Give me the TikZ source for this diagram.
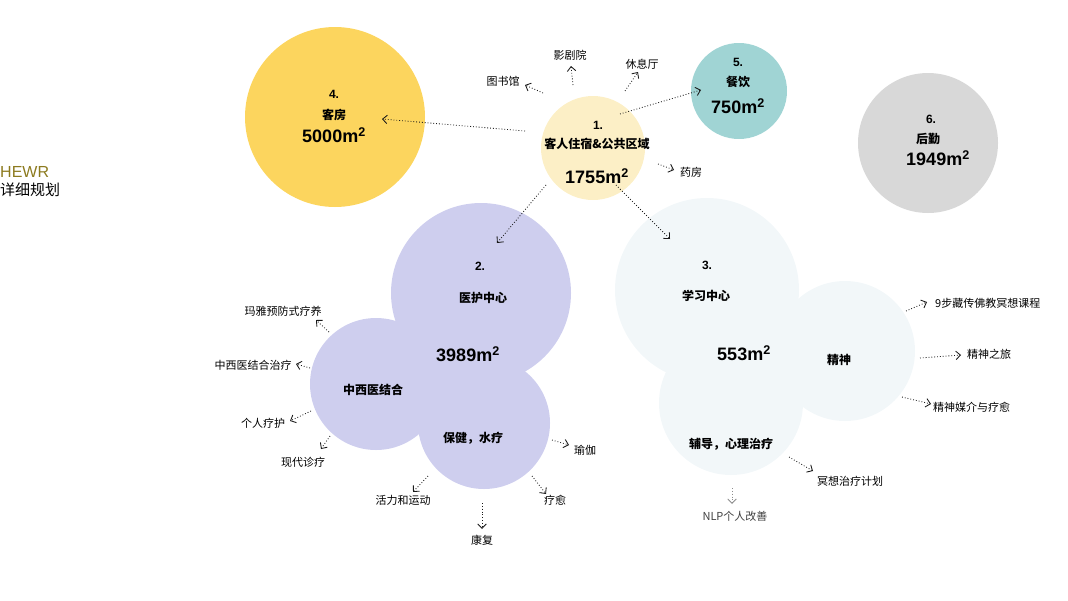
\documentclass[tikz,border=0pt]{standalone}
\usepackage{fontspec}
\setmainfont{Liberation Sans}
\newfontfamily\cjk{Noto Sans CJK SC}
\usetikzlibrary{arrows.meta}
\definecolor{cyel}{HTML}{FCD55E}
\definecolor{cpale}{HTML}{FCEFC6}
\definecolor{cteal}{HTML}{A0D4D4}
\definecolor{cgrey}{HTML}{D8D8D8}
\definecolor{cpurp}{HTML}{CECEEE}
\definecolor{ccyan}{HTML}{F2F7F9}
\definecolor{cgold}{RGB}{140,122,30}
\tikzset{
  blob/.style={circle, draw=none, inner sep=0pt, minimum size=#1},
  numtxt/.style={font=\bfseries\fontsize{12}{14}\selectfont, inner sep=0pt},
  nametxt/.style={font=\cjk\bfseries\fontsize{12}{14}\selectfont, inner sep=0pt},
  areatxt/.style={font=\bfseries\fontsize{18}{20}\selectfont, inner sep=0pt},
  lbl/.style={font=\cjk\fontsize{11}{13}\selectfont, text=black, inner sep=0pt},
  link/.style={draw=black!90, dotted, line width=0.85pt, -{Straight Barb[length=4.5pt,width=8.5pt]}},
}
\begin{document}
\begin{tikzpicture}[x=1pt,y=-1pt]
\useasboundingbox (0,0) rectangle (1068,600);
% circles
\node[blob=180, fill=cyel] (c4) at (335,117) {};
\node[blob=104, fill=cpale] (c1) at (593,148) {};
\node[blob=96, fill=cteal] (c5) at (739,91) {};
\node[blob=140, fill=cgrey] (c6) at (928,143) {};
\node[blob=180, fill=cpurp] (c2a) at (481,293) {};
\node[blob=132, fill=cpurp] (c2b) at (376,384) {};
\node[blob=132, fill=cpurp] (c2c) at (484,423) {};
\node[blob=184, fill=ccyan] (c3a) at (707,290) {};
\node[blob=140, fill=ccyan] (c3b) at (845,351) {};
\node[blob=144, fill=ccyan] (c3c) at (731,403) {};
% side title
\node[anchor=west, inner sep=0pt, text=cgold, font=\fontsize{16}{18}\selectfont] (hewr) at (0,172) {HEWR};
\node[anchor=west, inner sep=0pt, font=\cjk\fontsize{15}{17}\selectfont] (plan) at (0,190) {详细规划};
% circle texts
\node[numtxt] (n4) at (334,94) {4.};
\node[nametxt] (m4) at (334,115) {客房};
\node[areatxt] (a4) at (334,135) {5000m\textsuperscript{2}};
\node[numtxt] (n1) at (598,125) {1.};
\node[nametxt] (m1) at (597,144) {客人住宿\&公共区域};
\node[areatxt] (a1) at (597,176) {1755m\textsuperscript{2}};
\node[numtxt] (n5) at (738,62) {5.};
\node[nametxt] (m5) at (738,82) {餐饮};
\node[areatxt] (a5) at (738,106) {750m\textsuperscript{2}};
\node[numtxt] (n6) at (931,119) {6.};
\node[nametxt] (m6) at (928,139) {后勤};
\node[areatxt] (a6) at (938,158) {1949m\textsuperscript{2}};
\node[numtxt] (n2) at (480,266) {2.};
\node[nametxt] (m2) at (483,298) {医护中心};
\node[areatxt] (a2) at (468,354) {3989m\textsuperscript{2}};
\node[nametxt] (m2b) at (373,390) {中西医结合};
\node[nametxt] (m2c) at (473,438) {保健，水疗};
\node[numtxt] (n3) at (707,265) {3.};
\node[nametxt] (m3) at (706,296) {学习中心};
\node[areatxt] (a3) at (744,353) {553m\textsuperscript{2}};
\node[nametxt] (m3b) at (839,360) {精神};
\node[nametxt] (m3c) at (731,444) {辅导，心理治疗};
% labels
\node[lbl] (l1) at (503,81) {图书馆};
\node[lbl] (l2) at (570,55) {影剧院};
\node[lbl] (l3) at (642,64) {休息厅};
\node[lbl] (l4) at (691,172) {药房};
\node[lbl] (l5) at (283,311) {玛雅预防式疗养};
\node[lbl] (l6) at (253,365) {中西医结合治疗};
\node[lbl] (l7) at (263,423) {个人疗护};
\node[lbl] (l8) at (303,462) {现代诊疗};
\node[lbl] (l9) at (403,500) {活力和运动};
\node[lbl] (l10) at (482,540) {康复};
\node[lbl] (l11) at (555,500) {疗愈};
\node[lbl] (l12) at (585,450) {瑜伽};
\node[lbl, anchor=west] (l13) at (935,303) {9步藏传佛教冥想课程};
\node[lbl, anchor=west] (l14) at (967,354) {精神之旅};
\node[lbl, anchor=west] (l15) at (933,407) {精神媒介与疗愈};
\node[lbl] (l16) at (850,481) {冥想治疗计划};
\node[lbl, text=black!75] (l17) at (735,516) {NLP个人改善};
% arrow endpoints
\coordinate (s1) at (525,131); \coordinate (e1) at (382,119);
\coordinate (s2) at (543,93);  \coordinate (e2) at (525,85);
\coordinate (s3) at (573,85);  \coordinate (e3) at (571,66);
\coordinate (s4) at (625,91);  \coordinate (e4) at (638,72);
\coordinate (s5) at (620,114); \coordinate (e5) at (701,90);
\coordinate (s6) at (658,164); \coordinate (e6) at (674,170);
\coordinate (s7) at (546,185); \coordinate (e7) at (497,243);
\coordinate (s8) at (616,185); \coordinate (e8) at (670,239);
\coordinate (s9) at (329,332); \coordinate (e9) at (316,320);
\coordinate (s10) at (310,368); \coordinate (e10) at (296,364);
\coordinate (s11) at (311,411); \coordinate (e11) at (290,421);
\coordinate (s12) at (330,436); \coordinate (e12) at (321,449);
\coordinate (s13) at (428,476); \coordinate (e13) at (413,492);
\coordinate (s14) at (482,503); \coordinate (e14) at (482,529);
\coordinate (s15) at (532,476); \coordinate (e15) at (546,494);
\coordinate (s16) at (552,440); \coordinate (e16) at (569,445);
\coordinate (s17) at (906,311); \coordinate (e17) at (927,302);
\coordinate (s18) at (920,358); \coordinate (e18) at (961,355);
\coordinate (s19) at (902,397); \coordinate (e19) at (931,404);
\coordinate (s20) at (789,457); \coordinate (e20) at (813,471);
\coordinate (s21) at (732,488); \coordinate (e21) at (732,504);
% arrows
\foreach \i in {1,...,20} { \draw[link] (s\i) -- (e\i); }
\draw[link, draw=black!45] (s21) -- (e21);
\end{tikzpicture}
\end{document}
